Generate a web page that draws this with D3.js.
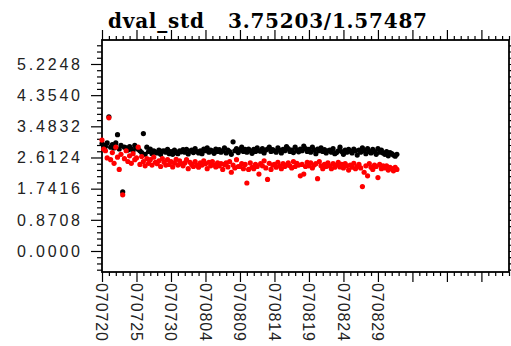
<!DOCTYPE html>
<html>
<head>
<meta charset="utf-8">
<script src="https://cdn.jsdelivr.net/npm/d3@7"></script>
<style>
  body { margin: 0; background: #fff; }
  svg { display: block; }
</style>
</head>
<body>
<div id="chart"></div>
<script>
// title text
const titleText = "dval_std   3.75203/1.57487";

// samples are 6-hourly, starting 2007-07-20 00Z
const startDay = "2007-07-20";
const endDay = "2007-09-17";
const sampleHours = [0, 6, 12, 18];

// black series, 4 values per day
const blackValues = [
  3.00, 2.95, 2.92, 3.02,
  3.75, 2.90, 2.97, 2.88,
  3.02, 3.25, 2.85, 2.95,
  1.65, 2.90, 2.88, 2.82,
  2.92, 2.85, 2.80, 2.95,
  2.88, 2.84, 2.80, 2.75,
  3.28, 2.70, 2.90, 2.78,
  2.85, 2.72, 2.80, 2.76,
  2.74, 2.82, 2.70, 2.79,
  2.80, 2.76, 2.84, 2.72,
  2.78, 2.70, 2.82, 2.75,
  2.72, 2.80, 2.77, 2.83,
  2.76, 2.84, 2.71, 2.79,
  2.82, 2.75, 2.86, 2.78,
  2.74, 2.80, 2.72, 2.85,
  2.80, 2.88, 2.76, 2.82,
  2.79, 2.73, 2.85, 2.78,
  2.83, 2.76, 2.80, 2.88,
  2.74, 2.82, 2.78, 2.70,
  3.05, 2.80, 2.86, 2.75,
  2.82, 2.90, 2.78, 2.84,
  2.76, 2.85, 2.80, 2.73,
  2.84, 2.78, 2.88, 2.80,
  2.79, 2.86, 2.74, 2.82,
  2.85, 2.90, 2.78, 2.83,
  2.80, 2.76, 2.88, 2.82,
  2.74, 2.84, 2.80, 2.92,
  2.86, 2.78, 2.82, 2.75,
  2.90, 2.82, 2.77, 2.85,
  2.80, 2.93, 2.86, 2.78,
  2.84, 2.76, 2.90, 2.82,
  2.72, 2.85, 2.80, 2.88,
  2.78, 2.83, 2.74, 2.80,
  2.82, 2.76, 2.86, 2.72,
  2.75, 2.80, 2.90, 2.78,
  2.70, 2.82, 2.76, 2.84,
  2.79, 2.74, 2.85, 2.80,
  2.68, 2.82, 2.76, 2.88,
  2.80, 2.72, 2.86, 2.78,
  2.74, 2.84, 2.78, 2.70,
  2.86, 2.76, 2.82, 2.74,
  2.70, 2.78, 2.66, 2.75,
  2.72, 2.68, 2.65, 2.70
];

// red series, 4 values per day
const redValues = [
  3.10, 2.85, 2.80, 2.60,
  3.72, 2.55, 2.75, 2.45,
  2.90, 2.62, 2.28, 2.70,
  1.57, 2.58, 2.80, 2.50,
  2.66, 2.45, 2.72, 2.55,
  2.60, 2.90, 2.42, 2.64,
  2.50, 2.38, 2.58, 2.45,
  2.55, 2.40, 2.62, 2.48,
  2.44, 2.52, 2.36, 2.58,
  2.48, 2.40, 2.55, 2.42,
  2.50, 2.35, 2.46, 2.56,
  2.40, 2.52, 2.44, 2.38,
  2.46, 2.55, 2.30, 2.48,
  2.42, 2.36, 2.50, 2.40,
  2.34, 2.46, 2.40, 2.52,
  2.44, 2.30, 2.48, 2.38,
  2.50, 2.40, 2.35, 2.46,
  2.38, 2.44, 2.28, 2.42,
  2.46, 2.35, 2.50, 2.20,
  2.40, 2.32, 2.55, 2.36,
  2.36, 2.44, 2.30, 2.42,
  1.90, 2.28, 2.46, 2.34,
  2.30, 2.42, 2.36, 2.15,
  2.44, 2.38, 2.52, 2.32,
  2.00, 2.45, 2.28, 2.40,
  2.42, 2.34, 2.48, 2.38,
  2.30, 2.44, 2.36, 2.40,
  2.46, 2.38, 2.32, 2.50,
  2.36, 2.45, 2.40, 2.10,
  2.42, 2.15, 2.36, 2.48,
  2.38, 2.46, 2.32, 2.40,
  2.44, 2.02, 2.50, 2.38,
  2.30, 2.42, 2.36, 2.46,
  2.38, 2.30, 2.44, 2.34,
  2.40, 2.48, 2.35, 2.42,
  2.32, 2.44, 2.38, 2.26,
  2.40, 2.34, 2.45, 2.30,
  2.36, 2.42, 2.32, 1.80,
  2.20, 2.38, 2.10, 2.44,
  2.34, 2.28, 2.40, 2.36,
  2.05, 2.42, 2.30, 2.38,
  2.32, 2.38, 2.26, 2.34,
  2.30, 2.24, 2.34, 2.28
];

// y axis labelled ticks
const yTickValues = [0, 0.8708, 1.7416, 2.6124, 3.4832, 4.3540, 5.2248];
const yDomain = [-0.587, 5.895];

// x axis labelled ticks (later major ticks have no label)
const xTickLabels = ["070720", "070725", "070730", "070804", "070809",
                     "070814", "070819", "070824", "070829"];

const W = 511, H = 346;
const margin = { top: 40, right: 2, bottom: 74, left: 102 };
const plotW = W - margin.left - margin.right;
const plotH = H - margin.top - margin.bottom;

const parseDay = d3.utcParse("%Y-%m-%d");
const t0 = parseDay(startDay);
const t1 = parseDay(endDay);

function toPoints(values) {
  return values.map((v, i) => {
    const day = Math.floor(i / sampleHours.length);
    const hour = sampleHours[i % sampleHours.length];
    return { t: d3.utcHour.offset(d3.utcDay.offset(t0, day), hour), v: v };
  });
}

const xScale = d3.scaleUtc().domain([t0, t1]).range([0, plotW]);
const yScale = d3.scaleLinear().domain(yDomain).range([plotH, 0]);

const svg = d3.select("#chart").append("svg")
  .attr("width", W).attr("height", H);

const g = svg.append("g")
  .attr("transform", "translate(" + margin.left + "," + margin.top + ")");

// tick positions
const dayTicks = d3.utcDay.range(t0, d3.utcDay.offset(t1, 1));
const majorX = dayTicks.filter((d, i) => i % 5 === 0);
const minorX = dayTicks.filter((d, i) => i % 5 !== 0);
const yStep = yTickValues[1] - yTickValues[0];
const minorY = d3.range(-3, 34).map(k => k * yStep / 5)
  .filter(v => v >= yDomain[0] && v <= yDomain[1] && Math.abs((v / yStep) - Math.round(v / yStep)) > 1e-6);

const fmtLabel = d3.utcFormat("%y%m%d");
const labelSet = new Set(xTickLabels);

// axes on all four sides, ticks pointing outward
function xAxes(ticks, size) {
  g.append("g").attr("class", "axis")
    .attr("transform", "translate(0," + plotH + ")")
    .call(d3.axisBottom(xScale).tickValues(ticks).tickSize(size).tickFormat(""));
  g.append("g").attr("class", "axis")
    .call(d3.axisTop(xScale).tickValues(ticks).tickSize(size).tickFormat(""));
}
function yAxes(ticks, size) {
  g.append("g").attr("class", "axis")
    .call(d3.axisLeft(yScale).tickValues(ticks).tickSize(size).tickFormat(""));
  g.append("g").attr("class", "axis")
    .attr("transform", "translate(" + plotW + ",0)")
    .call(d3.axisRight(yScale).tickValues(ticks).tickSize(size).tickFormat(""));
}
xAxes(minorX, 4);
xAxes(majorX, 10);
yAxes(minorY, 5);
yAxes(yTickValues, 11);

g.selectAll(".axis .domain").remove();
g.selectAll(".axis line").attr("stroke", "#000").attr("stroke-width", 1.2);

// frame
g.append("rect")
  .attr("x", 0).attr("y", 0).attr("width", plotW).attr("height", plotH)
  .attr("fill", "none").attr("stroke", "#000").attr("stroke-width", 1.8);

// y labels
g.selectAll(".ylab").data(yTickValues).enter().append("text")
  .attr("class", "ylab")
  .attr("x", -22)
  .attr("y", d => yScale(d))
  .attr("dy", "0.36em")
  .attr("text-anchor", "end")
  .attr("textLength", 63)
  .attr("lengthAdjust", "spacing")
  .style("font-family", "'Liberation Sans', Arial, sans-serif")
  .style("font-size", "16px")
  .attr("fill", "#222")
  .text(d => d.toFixed(4));

// x labels, rotated
g.selectAll(".xlab").data(majorX.filter(d => labelSet.has(fmtLabel(d)))).enter()
  .append("text")
  .attr("class", "xlab")
  .attr("transform", d => "translate(" + xScale(d) + "," + (plotH + 11) + ") rotate(90)")
  .attr("dy", "0.36em")
  .attr("text-anchor", "start")
  .attr("textLength", 58)
  .attr("lengthAdjust", "spacing")
  .style("font-family", "'Liberation Sans', Arial, sans-serif")
  .style("font-size", "16px")
  .attr("fill", "#222")
  .text(d => fmtLabel(d));

// points: black first, red on top
const plot = g.append("g");
plot.selectAll(".pb").data(toPoints(blackValues)).enter().append("circle")
  .attr("cx", d => xScale(d.t)).attr("cy", d => yScale(d.v))
  .attr("r", 2.6).attr("fill", "#000");
plot.selectAll(".pr").data(toPoints(redValues)).enter().append("circle")
  .attr("cx", d => xScale(d.t)).attr("cy", d => yScale(d.v))
  .attr("r", 2.6).attr("fill", "#f00");

// title
svg.append("text")
  .attr("x", 108).attr("y", 28)
  .attr("textLength", 319)
  .attr("lengthAdjust", "spacing")
  .style("white-space", "pre")
  .style("font-family", "'DejaVu Serif', serif")
  .style("font-weight", "bold")
  .style("font-size", "20px")
  .attr("fill", "#000")
  .text(titleText);
</script>
</body>
</html>
